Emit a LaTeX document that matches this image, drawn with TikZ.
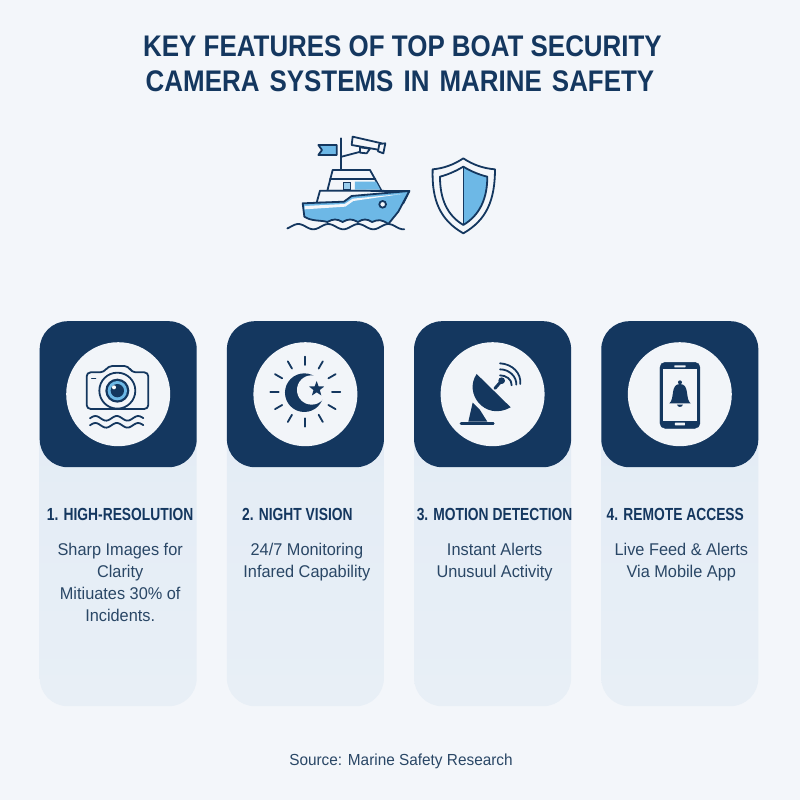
\documentclass[tikz,border=0pt]{standalone}
\usepackage{fontspec}
\setmainfont{Liberation Sans}
\newfontfamily\narrowfont[FakeStretch=0.79]{Liberation Sans}
\newfontfamily\titlefont[FakeStretch=0.87]{Liberation Sans}
\newfontfamily\bodyfont[FakeStretch=0.96]{Liberation Sans}
\usetikzlibrary{shapes.geometric, positioning}
\definecolor{navy}{HTML}{14375F}
\definecolor{inktext}{HTML}{2A4766}
\definecolor{skyblue}{HTML}{6DB8E6}
\definecolor{pagebg}{HTML}{F3F6FA}
\definecolor{circlebg}{HTML}{F2F5F9}
\definecolor{bodytop}{HTML}{E2EBF5}
\definecolor{bodybottom}{HTML}{E8EFF6}
\tikzset{
    cardbody/.style={rectangle, rounded corners=28pt, minimum width=157pt, minimum height=385pt, inner sep=0pt, top color=bodytop, bottom color=bodybottom},
    cardhead/.style={rectangle, rounded corners=28pt, minimum width=157pt, minimum height=146pt, inner sep=0pt, fill=navy},
    iconcircle/.style={circle, minimum size=104pt, inner sep=0pt, fill=circlebg},
    cardtitle/.style={font=\narrowfont\bfseries\fontsize{17.5}{20}\selectfont, text=navy, inner sep=0pt},
    cardtext/.style={font=\bodyfont\fontsize{17}{22}\selectfont, text=inktext, align=center, inner sep=0pt, anchor=north},
    iconline/.style={draw=navy, line width=1.8pt, line join=round, line cap=round}
}
\begin{document}
\begin{tikzpicture}[x=1pt, y=-1pt]

    \useasboundingbox (0,0) rectangle (800,800);
    \fill[pagebg] (0,0) rectangle (800,800);

    % Title
    \node (title) [font=\titlefont\bfseries\fontsize{29.8}{35}\selectfont, text=navy, align=center, inner sep=0pt] at (402.5,64)
        {KEY FEATURES OF TOP BOAT SECURITY\\\hspace*{-5pt}CAMERA\hspace{2.9pt} SYSTEMS\hspace{2.9pt} IN\hspace{2.9pt} MARINE\hspace{2.9pt} SAFETY};

    % Card 1
    \node (body1) [cardbody, anchor=north west] at (39.5,321) {};
    \node (head1) [cardhead, anchor=north] at (body1.north) {};
    \node (circle1) [iconcircle] at (head1) {};
    \node (title1) [cardtitle, below=40.5pt of head1, xshift=2pt] {1. HIGH-RESOLUTION};
    \node (text1) [cardtext, below=22pt of title1] {Sharp Images for\\Clarity\\Mitiuates 30\% of\\Incidents.};

    % Card 2
    \node (body2) [cardbody, right=29.8pt of body1] {};
    \node (head2) [cardhead, anchor=north] at (body2.north) {};
    \node (circle2) [iconcircle] at (head2) {};
    \node (title2) [cardtitle, below=40.5pt of head2, xshift=-8pt] {2. NIGHT VISION};
    \node (text2) [cardtext, below=22pt of title2, xshift=9.5pt] {24/7 Monitoring\\Infared Capability};

    % Card 3
    \node (body3) [cardbody, right=29.8pt of body2] {};
    \node (head3) [cardhead, anchor=north] at (body3.north) {};
    \node (circle3) [iconcircle] at (head3) {};
    \node (title3) [cardtitle, below=40.5pt of head3, xshift=2pt] {3. MOTION DETECTION};
    \node (text3) [cardtext, below=22pt of title3] {Instant Alerts\\Unusuul Activity};

    % Card 4
    \node (body4) [cardbody, right=29.8pt of body3] {};
    \node (head4) [cardhead, anchor=north] at (body4.north) {};
    \node (circle4) [iconcircle] at (head4) {};
    \node (title4) [cardtitle, below=40.5pt of head4, xshift=-4.5pt] {4. REMOTE ACCESS};
    \node (text4) [cardtext, below=22pt of title4, xshift=6pt] {Live Feed \& Alerts\\Via Mobile App};

    % Source
    \node (source) [font=\bodyfont\fontsize{16}{18}\selectfont, text=inktext, inner sep=0pt] at (401,761) {Source: Marine Safety Research};

    % Boat and shield
    \begin{scope}[shift={(270,120)}, x=0.3333pt, y=-0.3333pt]
        \draw[iconline, fill=skyblue] (145,75) -- (200,75) -- (200,105) -- (145,105) -- (156,90) -- cycle;
        \draw[iconline] (212,55) -- (212,150);
        \draw[iconline] (215,110) -- (272,95);
        \draw[iconline, fill=pagebg] (270,82) -- (270,98) -- (290,100) -- (300,86) -- cycle;
        \draw[iconline, fill=pagebg] (248,50) -- (335,70) -- (330,90) -- (245,75) -- cycle;
        \draw[iconline, fill=pagebg] (328,72) -- (346,70) -- (340,100) -- (324,94) -- cycle;
        % cabin
        \draw[iconline, fill=pagebg] (172,212) -- (188,150) -- (300,150) -- (335,213) -- cycle;
        \draw[iconline] (180,178) -- (316,178);
        \fill[skyblue] (255,185) -- (318,185) -- (331,209) -- (255,209) -- cycle;
        \draw[line width=1pt, draw=navy, fill=skyblue!70!white] (222,187) rectangle (241,210);
        % deck
        \draw[iconline, fill=pagebg] (140,248) -- (150,212) -- (418,213) -- (400,250) -- cycle;
        % hull
        \draw[iconline, fill=skyblue] (98,250) -- (222,245) -- (245,228) -- (418,213) -- (385,275) -- (355,312)
            .. controls (335,298) and (325,298) .. (306,306)
            .. controls (290,296) and (280,296) .. (264,306)
            .. controls (245,296) and (235,296) .. (218,306)
            .. controls (200,296) and (190,296) .. (172,306)
            .. controls (155,300) and (125,305) .. (103,290) -- cycle;
        \fill[pagebg] (104,258) -- (224,252) -- (248,236) -- (395,222) -- (250,243) -- (226,260) -- (104,268) -- cycle;
        \draw[navy, line width=1.8pt, fill=pagebg] (338,253) circle (10);
        % waves
        \draw[iconline] plot[smooth, domain=52:403, samples=50] (\x, {320-8*cos((\x-85)*4)});
        % shield
        \draw[iconline, fill=pagebg] (580,115) .. controls (550,135) and (520,145) .. (488,148)
            .. controls (485,240) and (510,300) .. (580,340)
            .. controls (650,300) and (675,240) .. (675,148)
            .. controls (640,145) and (610,135) .. (580,115) -- cycle;
        \fill[skyblue] (580,140) .. controls (605,155) and (630,165) .. (652,170)
            .. controls (652,235) and (630,285) .. (580,315) -- cycle;
        \draw[iconline] (580,140) .. controls (555,155) and (530,165) .. (510,170)
            .. controls (510,235) and (530,285) .. (580,315)
            .. controls (630,285) and (652,235) .. (652,170)
            .. controls (630,165) and (605,155) .. (580,140) -- cycle;
        \draw[iconline, line width=1pt] (580,140) -- (580,315);
    \end{scope}

    % Camera and moon icons
    \begin{scope}[shift={(30,310)}, x=0.3333pt, y=-0.3333pt]
        \draw[iconline, rounded corners=4pt] (170,187) -- (222,187) -- (235,168) -- (295,168) -- (305,187) -- (355,187) -- (355,297) -- (170,297) -- cycle;
        \draw[iconline, fill=circlebg] (262,242) circle (54);
        \fill[navy] (262,242) circle (36);
        \fill[skyblue] (262,242) circle (29);
        \fill[navy] (262,242) circle (20);
        \fill[white] (252,232) circle (6);
        \draw[iconline, line width=1.2pt] (185,205) -- (197,205);
        \draw[iconline] plot[smooth, domain=180:340, samples=30] (\x, {325-7*sin((\x-180)*5.6)});
        \draw[iconline] plot[smooth, domain=180:340, samples=30] (\x, {346-7*sin((\x-180)*5.6)});
        % moon
        \fill[navy] (823,248) circle (58);
        \fill[circlebg] (845,240) circle (44);
        \node (star2) [star, star points=5, star point ratio=2.4, fill=navy, minimum size=16pt, inner sep=0pt] at (860,237) {};
        \foreach \a in {0,30,...,330}
            \draw[iconline] ({826+80*cos(\a)}, {245+80*sin(\a)}) -- ({826+105*cos(\a)}, {245+105*sin(\a)});
    \end{scope}

    % Dish and phone icons
    \begin{scope}[shift={(400,310)}, x=0.3333pt, y=-0.3333pt]
        \fill[navy] (205,335) -- (218,278) -- (240,300) -- (262,335) -- cycle;
        \draw[iconline, line width=2.6pt] (183,340) -- (280,340);
        \fill[navy] (230,192) .. controls (190,250) and (255,335) .. (332,292) -- cycle;
        \draw[iconline, line width=3pt] (285,235) -- (305,212);
        \fill[navy] (305,212) circle (10);
        \draw[iconline] (300,196) .. controls (318,196) and (336,208) .. (335,226);
        \draw[iconline] (300,178) .. controls (328,178) and (350,200) .. (349,224);
        \draw[iconline] (300,160) .. controls (338,162) and (364,190) .. (361,222);
        % phone
        \draw[navy, fill=navy, rounded corners=5pt] (780,157) rectangle (900,355);
        \fill[circlebg] (788,178) rectangle (892,332);
        \fill[circlebg, rounded corners=0.5pt] (823,166) rectangle (857,172);
        \fill[circlebg, rounded corners=0.5pt] (825,338) rectangle (855,346);
        \fill[navy] (840,217) circle (6);
        \fill[navy] (808,280) .. controls (825,268) and (810,222) .. (840,222)
            .. controls (870,222) and (855,268) .. (872,280) -- cycle;
        \fill[navy] (831,284) .. controls (834,293) and (846,293) .. (849,284) -- cycle;
    \end{scope}

\end{tikzpicture}
\end{document}
